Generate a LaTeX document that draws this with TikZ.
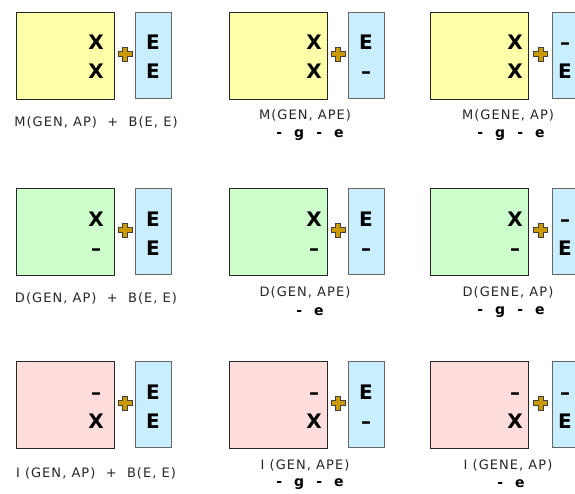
\documentclass[tikz,border=0pt]{standalone}
\usepackage{fontspec}
\setmainfont{DejaVu Sans}
\newfontfamily\lblfont[LetterSpace=8]{DejaVu Sans}
\usetikzlibrary{calc,positioning}

\definecolor{mcol}{HTML}{FFFFAA}
\definecolor{dcol}{HTML}{CCFFCC}
\definecolor{icol}{HTML}{FFDDDD}
\definecolor{ecol}{HTML}{C8EEFF}
\definecolor{gold}{HTML}{CC9900}

\newcommand{\gap}{\hspace{12pt}}

\tikzstyle{genbox}=[draw=black!85,line width=0.8pt,minimum width=98pt,minimum height=87pt,inner sep=0pt,anchor=north west]
\tikzstyle{ebox}=[draw=black!60,line width=0.8pt,fill=ecol,minimum width=36pt,minimum height=86pt,inner sep=0pt,anchor=north west]
\tikzstyle{big}=[font=\fontsize{20}{20}\selectfont\bfseries,inner sep=0pt,anchor=base]
\tikzstyle{lbl}=[font=\lblfont\fontsize{13}{15}\selectfont,text=black!85,inner sep=0pt]
\tikzstyle{sub}=[font=\fontsize{14}{16}\selectfont\bfseries,inner sep=0pt]
\tikzstyle{plusfill}=[fill=gold,draw=black!75,line width=0.6pt,line join=miter]

\tikzset{plussign/.pic={
  \path[plusfill] (-2.4,-7) -- (2.4,-7) -- (2.4,-2.4) -- (7,-2.4) -- (7,2.4) -- (2.4,2.4)
     -- (2.4,7) -- (-2.4,7) -- (-2.4,2.4) -- (-7,2.4) -- (-7,-2.4) -- (-2.4,-2.4) -- cycle;}}

\begin{document}
\begin{tikzpicture}[x=1pt,y=-1pt]
\useasboundingbox (0,0) rectangle (575,494);
\clip (0,0) rectangle (575,494);

  % one row per box colour, three columns each
  \foreach \dy/\fillc/\ga/\gb/\r in {12/mcol/X/X/m, 188/dcol/X/–/d, 361/icol/–/X/i}
  \foreach \dx/\ex/\lx/\elx/\c/\ea/\eb in {16/119/80/18/1/E/E, 229/119/85/18/2/E/–, 430/122/85/13/3/–/E}
  {
    \node[genbox,fill=\fillc] (\r\c) at (\dx,\dy) {};
    \node[ebox] (\r\c e) at (\dx+\ex,\dy) {};
    \node[big] (\r\c ga) at (\dx+\lx,\dy+38) {\ga};
    \node[big] (\r\c gb) at (\dx+\lx,\dy+67) {\gb};
    \node[big] (\r\c ea) at ($(\r\c e.north west)+(\elx,38)$) {\ea};
    \node[big] (\r\c eb) at ($(\r\c e.north west)+(\elx,67)$) {\eb};
    \pic at ($(\r\c.east)!.5!(\r\c e.west)+(0,-1.5)$) {plussign};
  }

  % labels under the boxes
  \node[lbl] (m1lab) at (96,122) {M(GEN, AP)\ \ +\ \ B(E, E)};
  \node[lbl] (m2lab) at (305,115) {M(GEN, APE)};
  \node[sub] (m2sub) at (310,135) {-\gap g\gap -\gap e};
  \node[lbl] (m3lab) at (508,115) {M(GENE, AP)};
  \node[sub] (m3sub) at (511,135) {-\gap g\gap -\gap e};

  \node[lbl] (d1lab) at (96,298) {D(GEN, AP)\ \ +\ \ B(E, E)};
  \node[lbl] (d2lab) at (305,292) {D(GEN, APE)};
  \node[sub] (d2sub) at (310,312) {-\gap e};
  \node[lbl] (d3lab) at (508,292) {D(GENE, AP)};
  \node[sub] (d3sub) at (511,312) {-\gap g\gap -\gap e};

  \node[lbl] (i1lab) at (96,473) {I (GEN, AP)\ \ +\ \ B(E, E)};
  \node[lbl] (i2lab) at (305,465) {I (GEN, APE)};
  \node[sub] (i2sub) at (310,484) {-\gap g\gap -\gap e};
  \node[lbl] (i3lab) at (508,465) {I (GENE, AP)};
  \node[sub] (i3sub) at (511,484) {-\gap e};
\end{tikzpicture}
\end{document}
